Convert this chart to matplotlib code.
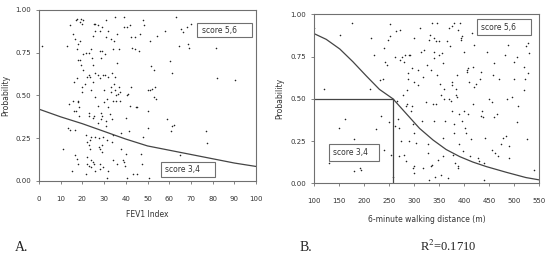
import matplotlib
matplotlib.use("Agg")
import matplotlib.pyplot as plt
from matplotlib.patches import Rectangle

# ---- panel A: FEV1 index vs probability ----
fev1_x = [1.5, 11, 13, 13.5, 14, 14.5, 15, 14.5, 15.5, 16, 16, 15.5, 16.5, 17, 16.5, 16.5,
          17, 17.5, 18, 17.5, 18, 17.5, 18, 18, 18.5, 18.5, 18, 17.5,
          19, 19.5, 20, 19, 19.5, 20, 20, 20.5, 19, 20.5, 21, 20.5,
          21.5, 22, 21.5, 22, 22, 21.5, 22,
          23, 23, 23.5, 23, 23, 23.5, 23, 23.5, 23, 24, 24, 24.5, 24, 24, 24,
          25, 25, 25, 25.5, 25, 25.5, 26, 26, 26, 25.5, 26, 26, 26, 25,
          27, 27, 27, 27, 27.5, 27.5, 28, 28, 28, 28.5, 28.5, 28, 28, 28, 28.5,
          29, 29, 29.5, 29, 29.5, 29, 29, 29.5, 30, 30, 30.5, 30.5,
          31, 31, 31.5, 31, 31, 31.5, 31.5, 32, 32, 32, 32, 32.5,
          33, 33, 33, 33.5, 33.5, 33.5, 34, 34, 34, 34, 34.5, 34.5,
          35, 35, 35, 35.5, 35.5, 36, 36, 36.5, 36,
          37, 37, 37.5, 37.5, 38, 38, 38.5,
          39, 39, 39, 39.5, 40, 40, 40.5, 40.5, 40.5,
          41, 41.5, 42, 42, 42.5, 42.5, 43, 43.5,
          44, 44, 44.5, 45, 45,
          46, 46.5, 47, 47.5, 48, 48, 48.5,
          50, 50, 50, 50.5, 51, 51, 51.5,
          52, 53, 53, 53.5, 54, 54.5,
          58, 59, 60.5, 61, 61.5, 61.5, 62,
          63, 64.5, 65, 65.5, 66.5, 68, 68.5, 69, 70,
          77, 77.5, 81.5, 82, 90.5]
fev1_p = [0.79, 0.19, 0.79, 0.31, 0.45, 0.91, 0.06, 0.30, 0.47, 0.58, 0.41, 0.86, 0.83, 0.41, 0.15, 0.30,
          0.94, 0.95, 0.80, 0.77, 0.71, 0.60, 0.46, 0.47, 0.38, 0.43, 0.10, 0.13,
          0.93, 0.95, 0.92, 0.71, 0.68, 0.55, 0.52, 0.65, 0.82, 0.74, 0.57, 0.94,
          0.75, 0.61, 0.27, 0.23, 0.14, 0.04, 0.10,
          0.75, 0.62, 0.61, 0.40, 0.38, 0.24, 0.21, 0.19, 0.09, 0.53, 0.77, 0.72, 0.26, 0.12, 0.08,
          0.85, 0.68, 0.58, 0.38, 0.37, 0.92, 0.92, 0.88, 0.26, 0.10, 0.06, 0.49, 0.63, 0.11,
          0.91, 0.62, 0.44, 0.34, 0.25, 0.20, 0.76, 0.88, 0.60, 0.40, 0.36, 0.19, 0.10, 0.07, 0.72,
          0.90, 0.76, 0.62, 0.38, 0.26, 0.21, 0.17, 0.08, 0.53, 0.46, 0.62, 0.74,
          0.94, 0.84, 0.48, 0.35, 0.32, 0.24, 0.02, 0.88, 0.61, 0.43, 0.06, 0.39,
          0.83, 0.55, 0.52, 0.63, 0.36, 0.23, 0.77, 0.47, 0.27, 0.12, 0.82, 0.57,
          0.96, 0.61, 0.53, 0.47, 0.50, 0.69, 0.86, 0.51, 0.10,
          0.77, 0.55, 0.52, 0.47, 0.28, 0.19, 0.12,
          0.96, 0.90, 0.11, 0.09, 0.37, 0.16, 0.02, 0.50, 0.90,
          0.51, 0.29, 0.44, 0.91, 0.55, 0.84, 0.78, 0.04,
          0.77, 0.84, 0.43, 0.43, 0.04,
          0.76, 0.86, 0.16, 0.10, 0.26, 0.94, 0.91,
          0.41, 0.53, 0.31, 0.02, 0.82, 0.53, 0.67,
          0.54, 0.49, 0.65, 0.55, 0.48, 0.85,
          0.88, 0.36, 0.70, 0.29, 0.32, 0.63, 0.33,
          0.96, 0.79, 0.15, 0.89, 0.87, 0.90, 0.80, 0.78, 0.92,
          0.29, 0.22, 0.78, 0.60, 0.59]
fev1_curve_x = [0, 10, 20, 30, 40, 50, 60, 70, 80, 90, 100]
fev1_curve_p = [0.42, 0.375, 0.335, 0.29, 0.245, 0.205, 0.18, 0.155, 0.13, 0.105, 0.085]

# ---- panel B: 6-minute walking distance vs probability ----
walk_x = [101, 120, 130, 152, 150, 163, 176, 180, 180, 193, 194, 212, 215, 220, 225, 233, 235, 238,
          240, 240, 243, 246, 248, 250, 252, 252, 255, 258,
          262, 263, 265, 266, 268, 270, 270, 272, 273, 275, 276, 278, 280, 281, 283, 284, 285, 286,
          287, 288, 288, 289, 290, 292, 293, 295, 296, 297, 298, 299, 300, 300, 300, 300,
          303, 307, 308, 312, 314, 316, 318, 318, 320, 323, 325, 327, 328, 329, 330, 332, 333, 334,
          336, 336, 338, 340, 340, 340, 340, 342, 343, 343, 345, 345, 348, 350, 350, 352, 353, 354,
          355, 357, 358, 358, 360, 360, 362, 365,
          368, 370, 370, 372, 373, 375, 375, 375, 376, 378, 380, 380, 380, 382, 383, 384, 385, 386,
          387, 388, 388, 390, 390, 392, 393, 394, 395, 396, 398, 400, 400, 402, 403, 405, 406, 407,
          408, 410, 412, 413, 415, 418, 418, 420, 420, 424,
          428, 430, 432, 433, 434, 435, 437, 440, 442, 445, 450, 455, 455, 458, 460, 462, 465, 467,
          470, 473, 478, 482, 484, 486, 488, 490, 490, 495, 500, 505, 505, 508, 520, 520, 522, 523,
          525, 527, 528, 530, 540, 440, 460, 500]
walk_p = [0.92, 0.56, 0.12, 0.88, 0.33, 0.38, 0.95, 0.26, 0.07, 0.09, 0.08, 0.56, 0.86, 0.76, 0.32, 0.61, 0.40, 0.62,
          0.20, 0.80, 0.72, 0.70, 0.85, 0.36, 0.94, 0.87, 0.17, 0.04,
          0.34, 0.75, 0.90, 0.49, 0.38, 0.33, 0.16, 0.73, 0.91, 0.25, 0.75, 0.52, 0.72, 0.17, 0.76, 0.46, 0.13, 0.55,
          0.47, 0.65, 0.62, 0.76, 0.25, 0.76, 0.43, 0.68, 0.46, 0.09, 0.35, 0.10, 0.06, 0.60, 0.30, 0.86,
          0.24, 0.58, 0.67, 0.92, 0.78, 0.37, 0.63, 0.09, 0.79, 0.48, 0.70, 0.18, 0.23, 0.02, 0.85, 0.88, 0.67, 0.10,
          0.95, 0.11, 0.47, 0.37, 0.74, 0.78, 0.86, 0.04, 0.47, 0.84, 0.95, 0.64, 0.14, 0.76, 0.84, 0.59, 0.05, 0.52,
          0.77, 0.27, 0.16, 0.71, 0.50, 0.56, 0.37, 0.84,
          0.03, 0.92, 0.50, 0.81, 0.49, 0.60, 0.58, 0.43, 0.93, 0.17, 0.35, 0.30, 0.95, 0.12, 0.52, 0.56, 0.64, 0.51,
          0.09, 0.10, 0.91, 0.41, 0.23, 0.95, 0.86, 0.85, 0.87, 0.37, 0.19, 0.43, 0.78, 0.33, 0.30, 0.67, 0.66, 0.68,
          0.41, 0.60, 0.16, 0.26, 0.89, 0.47, 0.69, 0.82, 0.57, 0.59,
          0.15, 0.13, 0.62, 0.66, 0.40, 0.43, 0.39, 0.02, 0.27, 0.78, 0.50, 0.20, 0.48, 0.64, 0.71, 0.18, 0.41, 0.16,
          0.62, 0.23, 0.27, 0.76, 0.28, 0.50, 0.82, 0.22, 0.15, 0.51, 0.62, 0.36, 0.75, 0.46, 0.55, 0.69, 0.62, 0.81,
          0.26, 0.83, 0.65, 0.77, 0.08, 0.12, 0.39, 0.72]
walk_curve_x = [100, 125, 152, 178, 205, 231, 258, 284, 311, 338, 364, 391, 417, 444, 484, 523, 550]
walk_curve_p = [0.887, 0.852, 0.795, 0.72, 0.635, 0.556, 0.50, 0.414, 0.325, 0.256, 0.20, 0.158,
                0.126, 0.099, 0.065, 0.034, 0.02]
walk_cut = 258  # distance where probability = 0.5

frame_col = "#707070"
text_col = "#333333"
fs = 5

fig = plt.figure(figsize=(5.46, 2.56), dpi=100)
axA = fig.add_axes([0.0714, 0.293, 0.3976, 0.668])
axB = fig.add_axes([0.5745, 0.284, 0.4135, 0.660])


def style_axis(ax):
    for s in ax.spines.values():
        s.set_color(frame_col)
        s.set_linewidth(0.8)
    ax.tick_params(direction="out", length=2.5, width=0.6, color=frame_col,
                   labelsize=fs, labelcolor=text_col)
    ax.tick_params(axis="x", pad=8)
    ax.tick_params(axis="y", pad=3)
    ax.set_ylim(0, 1)
    ax.set_yticks([0, 0.25, 0.5, 0.75, 1.0])
    ax.set_yticklabels(["0.00", "0.25", "0.50", "0.75", "1.00"])
    ax.set_ylabel("Probability", fontsize=fs + 0.5, color=text_col, labelpad=4)


def score_box(ax, x0, y0, w, h, label):
    ax.add_patch(Rectangle((x0, y0), w, h, facecolor="white", edgecolor=frame_col,
                           linewidth=0.8, zorder=3))
    ax.text(x0 + w * 0.08, y0 + h / 2, label, fontsize=fs + 0.5, color=text_col,
            va="center", ha="left", zorder=4)


# panel A
style_axis(axA)
axA.scatter(fev1_x, fev1_p, s=1.3, color="#222222", linewidths=0, zorder=2)
axA.plot(fev1_curve_x, fev1_curve_p, color="#444444", lw=0.9, zorder=2)
axA.set_xlim(0, 100)
axA.set_xticks(range(0, 101, 10))
axA.set_xlabel("FEV1 Index", fontsize=fs + 0.5, color=text_col, labelpad=6)
score_box(axA, 73, 0.84, 25, 0.085, "score 5,6")
score_box(axA, 56, 0.025, 25, 0.085, "score 3,4")

# panel B
style_axis(axB)
axB.scatter(walk_x, walk_p, s=1.3, color="#222222", linewidths=0, zorder=2)
axB.plot(walk_curve_x, walk_curve_p, color="#444444", lw=0.9, zorder=2)
axB.plot([100, walk_cut], [0.5, 0.5], color="#444444", lw=0.9, zorder=2)
axB.plot([walk_cut, walk_cut], [0, 0.5], color="#444444", lw=0.9, zorder=2)
axB.set_xlim(100, 550)
axB.set_xticks(range(100, 551, 50))
axB.set_xlabel("6-minute walking distance (m)", fontsize=fs + 0.5, color=text_col, labelpad=8)
score_box(axB, 425, 0.88, 108, 0.09, "score 5,6")
score_box(axB, 130, 0.13, 100, 0.10, "score 3,4")

# panel letters and fit statistic
fig.text(0.027, 0.02, "A.", fontsize=10, family="Liberation Serif", color="#222222")
fig.text(0.548, 0.02, "B.", fontsize=10, family="Liberation Serif", color="#222222")
fig.text(0.77, 0.02, "R$^2$=0.1710", fontsize=9, family="Liberation Serif", color="#222222",
         math_fontfamily="stix")

fig.savefig("out.png", dpi=100)
